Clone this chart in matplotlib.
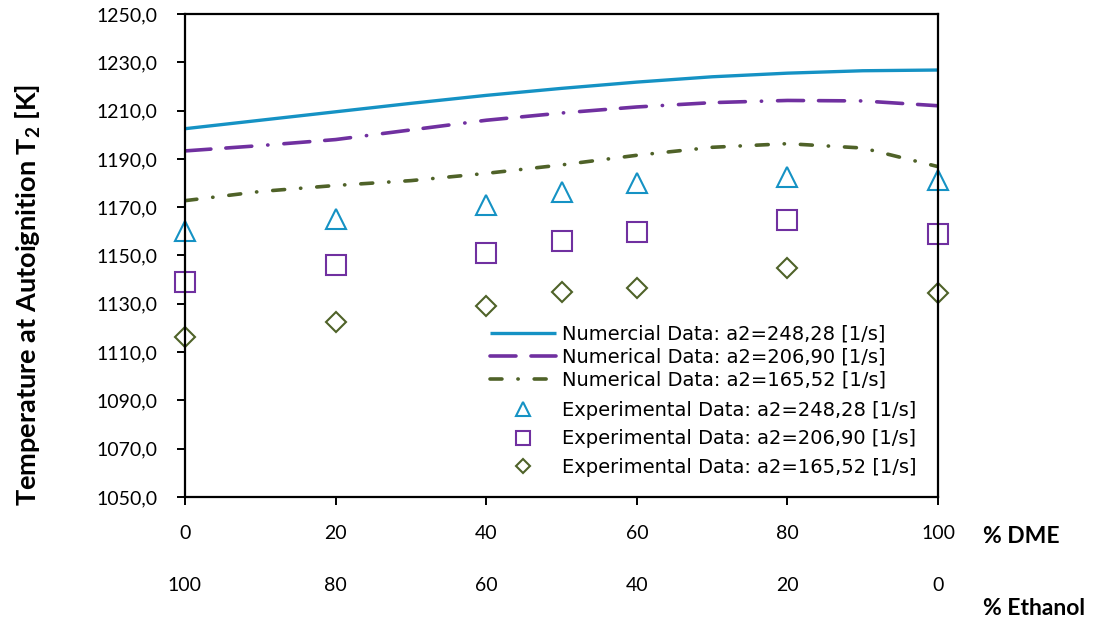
import matplotlib
matplotlib.use("Agg")
import matplotlib.pyplot as plt
import matplotlib.transforms as mtransforms
from matplotlib.ticker import FuncFormatter

# numerical curves, every 10 % DME
x_num = [0, 10, 20, 30, 40, 50, 60, 70, 80, 90, 100]
num_248 = [1202.5, 1206.0, 1209.5, 1213.0, 1216.3, 1219.2, 1221.8, 1224.0, 1225.5, 1226.5, 1226.8]
num_207 = [1193.3, 1195.5, 1198.0, 1202.0, 1206.0, 1209.0, 1211.5, 1213.3, 1214.2, 1214.0, 1212.0]
num_166 = [1172.7, 1176.5, 1179.0, 1181.0, 1184.0, 1187.5, 1191.5, 1194.8, 1196.3, 1194.5, 1186.8]

# experimental points
x_exp = [0, 20, 40, 50, 60, 80, 100]
exp_248 = [1160.3, 1165.2, 1170.9, 1176.1, 1179.9, 1182.6, 1181.3]
exp_207 = [1139.0, 1145.9, 1151.0, 1156.0, 1159.7, 1164.6, 1158.7]
exp_166 = [1116.3, 1122.4, 1129.2, 1134.9, 1136.7, 1144.9, 1134.6]

dme_ticks = [0, 20, 40, 60, 80, 100]
y_ticks = [1050, 1070, 1090, 1110, 1130, 1150, 1170, 1190, 1210, 1230, 1250]

blue = "#1592c4"
purple = "#7030a0"
green = "#4f6228"

plt.rcParams['font.family'] = ['Lato', 'DejaVu Sans']
plt.rcParams['lines.scale_dashes'] = False

fig = plt.figure(figsize=(11.01, 6.22), dpi=100)
ax = fig.add_axes([0.168, 0.201, 0.684, 0.7765])

l1, = ax.plot(x_num, num_248, color=blue, lw=2.4, solid_capstyle='butt',
              label="Numercial Data: a2=248,28 [1/s]")
l2, = ax.plot(x_num, num_207, color=purple, lw=2.6, dashes=(18.7, 10.8, 18.7, 11.5, 0.2, 11.5),
              dash_capstyle='round', label="Numerical Data: a2=206,90 [1/s]")
l3, = ax.plot(x_num, num_166, color=green, lw=2.6, dashes=(8.6, 11.5, 0.2, 11.5),
              dash_capstyle='round', label="Numerical Data: a2=165,52 [1/s]")

m1, = ax.plot(x_exp, exp_248, ls='none', marker='^', ms=14, mfc='none', mec=blue, mew=1.5,
              label="Experimental Data: a2=248,28 [1/s]", clip_on=False)
m2, = ax.plot(x_exp, exp_207, ls='none', marker='s', ms=14, mfc='none', mec=purple, mew=1.5,
              label="Experimental Data: a2=206,90 [1/s]", clip_on=False)
m3, = ax.plot(x_exp, exp_166, ls='none', marker='D', ms=10, mfc='none', mec=green, mew=1.5,
              label="Experimental Data: a2=165,52 [1/s]", clip_on=False)

ax.set_xlim(0, 100)
ax.set_ylim(1050, 1250)
ax.set_xticks(dme_ticks)
ax.set_yticks(y_ticks)
ax.yaxis.set_major_formatter(FuncFormatter(lambda v, p: f"{v:.1f}".replace('.', ',')))
for s in ax.spines.values():
    s.set_linewidth(1.6)
ax.tick_params(axis='both', direction='out', length=6, width=1.4, labelsize=14)
ax.tick_params(axis='x', pad=14)
ax.tick_params(axis='y', pad=14)

# second row of labels: % Ethanol
trans = mtransforms.blended_transform_factory(ax.transData, ax.transAxes)
for d in dme_ticks:
    ax.text(d, -0.183, str(100 - d), transform=trans, ha='center', va='center', fontsize=14)

fig.text(28 / 1101, 1 - 295 / 622, "Temperature at Autoignition T$_\\mathregular{2}$ [K]",
         fontsize=19.5, fontweight='bold', rotation=90, ha='center', va='center')
fig.text(0.893, 0.137, "% DME", fontsize=16.5, fontweight='bold', ha='left', va='center')
fig.text(0.893, 0.022, "% Ethanol", fontsize=16.5, fontweight='bold', ha='left', va='center')

lp = {'family': 'DejaVu Sans', 'size': 14}
leg1 = fig.legend(handles=[l1, l2, l3], loc='center left',
                  bbox_to_anchor=(490 / 1101, 1 - 357 / 622), frameon=False, prop=lp,
                  handlelength=3.4, handletextpad=0.3, labelspacing=0.2,
                  borderpad=0, borderaxespad=0)
leg2 = fig.legend(handles=[m1, m2, m3], loc='center left',
                  bbox_to_anchor=(490 / 1101, 1 - 439 / 622), frameon=False, prop=lp,
                  handlelength=3.4, handletextpad=0.3, labelspacing=0.5, markerscale=0.7,
                  borderpad=0, borderaxespad=0)

fig.savefig("out.png", dpi=100)
